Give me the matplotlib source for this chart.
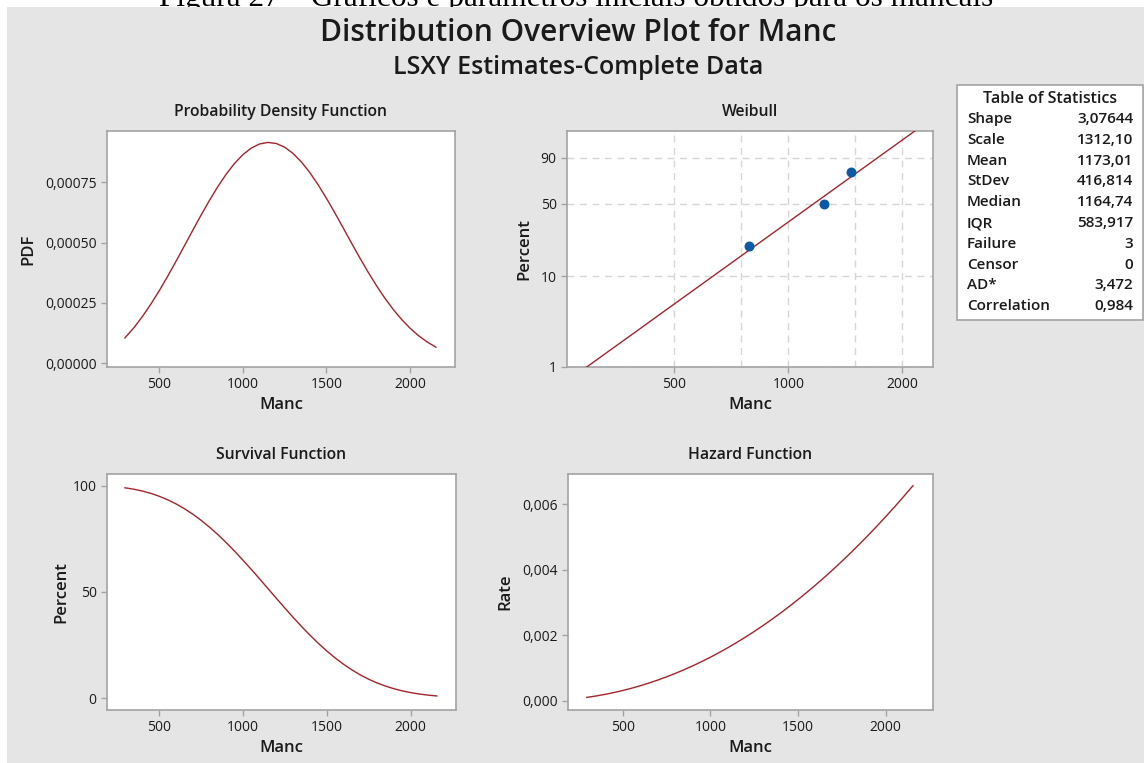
import numpy as np
import matplotlib.pyplot as plt
from matplotlib.patches import Rectangle
from matplotlib.ticker import FixedLocator, FuncFormatter, NullFormatter

# Weibull fit for Manc (shape 3,07644, scale 1312,10), evaluated from the 1st to the 99th percentile
manc = [294.2, 350, 400, 450, 500, 550, 600, 650, 700, 750, 800, 850, 900, 950,
        1000, 1050, 1100, 1150, 1200, 1250, 1300, 1350, 1400, 1450, 1500, 1550,
        1600, 1650, 1700, 1750, 1800, 1850, 1900, 1950, 2000, 2050, 2100, 2155.6]
pdf = [0.00010405, 0.00014823, 0.00019391, 0.00024485, 0.00030042, 0.00035982,
       0.00042204, 0.00048597, 0.00055034, 0.00061375, 0.00067471, 0.00073174,
       0.00078333, 0.00082805, 0.00086462, 0.00089192, 0.00090910, 0.00091558,
       0.00091114, 0.00089587, 0.00087023, 0.00083503, 0.00079137, 0.00074060,
       0.00068428, 0.00062405, 0.00056163, 0.00049867, 0.00043671, 0.00037711,
       0.00032101, 0.00026928, 0.00022253, 0.00018112, 0.00014514, 0.00011447,
       0.00008882, 0.00006570]
survival = [99.00, 98.30, 97.45, 96.35, 94.99, 93.34, 91.39, 89.12, 86.53, 83.62,
            80.39, 76.87, 73.08, 69.05, 64.82, 60.42, 55.92, 51.35, 46.78, 42.26,
            37.84, 33.57, 29.50, 25.67, 22.10, 18.83, 15.87, 13.22, 10.88, 8.84,
            7.10, 5.63, 4.40, 3.39, 2.58, 1.93, 1.43, 1.00]
hazard = [0.00010510, 0.00015080, 0.00019899, 0.00025412, 0.00031627, 0.00038549,
          0.00046182, 0.00054532, 0.00063604, 0.00073401, 0.00083927, 0.00095186,
          0.00107181, 0.00119915, 0.00133392, 0.00147614, 0.00162584, 0.00178305,
          0.00194780, 0.00212011, 0.00230000, 0.00248748, 0.00268260, 0.00288535,
          0.00309579, 0.00331390, 0.00353975, 0.00377331, 0.00401461, 0.00426366,
          0.00452051, 0.00478515, 0.00505760, 0.00533788, 0.00562600, 0.00592199,
          0.00622584, 0.00657243]

# observed failures with median ranks
obs_manc = [790, 1243, 1462]
obs_pct = [20.59, 50.00, 79.41]

stat_names = ["Shape", "Scale", "Mean", "StDev", "Median", "IQR",
              "Failure", "Censor", "AD*", "Correlation"]
stat_values = ["3,07644", "1312,10", "1173,01", "416,814", "1164,74", "583,917",
               "3", "0", "3,472", "0,984"]

W, H = 1144, 763
BG = "#e5e5e5"
RED = "#a4242c"
SPINE = "#a3a3a3"
TXT = "#1a1a1a"

plt.rcParams['font.family'] = ['Open Sans', 'DejaVu Sans']
plt.rcParams['text.color'] = TXT
plt.rcParams['axes.labelcolor'] = TXT
plt.rcParams['xtick.color'] = SPINE
plt.rcParams['ytick.color'] = SPINE
plt.rcParams['xtick.labelcolor'] = TXT
plt.rcParams['ytick.labelcolor'] = TXT
plt.rcParams['xtick.labelsize'] = 10
plt.rcParams['ytick.labelsize'] = 10

fig = plt.figure(figsize=(W / 100, H / 100), dpi=100, facecolor="white")

# caption of the report page, mostly hidden behind the graph window
fig.text(576 / W, 1 - 6 / H,
         "Figura 27 – Gráficos e parâmetros iniciais obtidos para os mancais",
         family="Liberation Serif", fontsize=22.5, ha="center", va="baseline",
         color="black", zorder=0)
fig.add_artist(Rectangle((7 / W, 0), 1 - 7 / W, 1 - 7 / H, transform=fig.transFigure,
                         facecolor=BG, edgecolor="none", zorder=1))

fig.text(578 / W, 1 - 33 / H, "Distribution Overview Plot for Manc",
         fontsize=21.5, fontweight="semibold", ha="center", va="center", zorder=2)
fig.text(578 / W, 1 - 67 / H, "LSXY Estimates-Complete Data",
         fontsize=18, fontweight="semibold", ha="center", va="center", zorder=2)


def rect(left, top, right, bottom):
    return [left / W, 1 - bottom / H, (right - left) / W, (bottom - top) / H]


def comma(fmt):
    return FuncFormatter(lambda v, pos: format(v, fmt).replace(".", ","))


def style(ax, title):
    ax.set_facecolor("white")
    for s in ax.spines.values():
        s.set_color(SPINE)
        s.set_linewidth(1.2)
    ax.tick_params(length=4, width=1)
    ax.set_title(title, fontsize=11.3, fontweight="semibold", pad=11)
    ax.set_xlabel("Manc", fontsize=12, fontweight="semibold", labelpad=3)


xlims = (187, 2270)
xticks = [500, 1000, 1500, 2000]

# probability density
ax1 = fig.add_axes(rect(107, 131, 455, 367), zorder=3)
style(ax1, "Probability Density Function")
ax1.plot(manc, pdf, color=RED, lw=1)
ax1.set_xlim(xlims)
ax1.set_xticks(xticks)
ax1.set_ylim(-0.0000166, 0.000963)
ax1.set_yticks([0, 0.00025, 0.0005, 0.00075])
ax1.yaxis.set_major_formatter(comma(".5f"))
ax1.set_ylabel("PDF", fontsize=12, fontweight="semibold", labelpad=6)


# Weibull probability plot
def weib_fwd(p):
    p = np.clip(np.asarray(p, dtype=float), 1e-6, 100 - 1e-6)
    return np.log(-np.log(1 - p / 100))


def weib_inv(t):
    return 100 * (1 - np.exp(-np.exp(t)))


ax2 = fig.add_axes(rect(567, 131, 933, 367), zorder=3)
style(ax2, "Weibull")
ax2.set_xscale("log")
ax2.set_yscale("function", functions=(weib_fwd, weib_inv))
ax2.plot(manc, [100 - s for s in survival], color=RED, lw=1, zorder=3)
ax2.scatter(obs_manc, obs_pct, s=38, color="#0b5aa8", zorder=4, clip_on=False)
ax2.set_xlim(261, 2407)
ax2.set_ylim(1, 99)
ax2.xaxis.set_major_locator(FixedLocator([500, 1000, 2000]))
ax2.xaxis.set_major_formatter(FuncFormatter(lambda v, pos: f"{v:.0f}"))
ax2.xaxis.set_minor_locator(FixedLocator([750, 1500]))
ax2.xaxis.set_minor_formatter(NullFormatter())
ax2.yaxis.set_major_locator(FixedLocator([1, 10, 50, 90]))
ax2.yaxis.set_major_formatter(FuncFormatter(lambda v, pos: f"{v:.0f}"))
ax2.yaxis.set_minor_locator(FixedLocator([]))
ax2.tick_params(which="minor", length=0)
ax2.grid(which="both", color="#d6d6d6", lw=1, ls=(0, (5, 4)))
ax2.set_axisbelow(True)
ax2.set_ylabel("Percent", fontsize=12, fontweight="semibold", labelpad=6)

# survival
ax3 = fig.add_axes(rect(107, 474, 456, 710), zorder=3)
style(ax3, "Survival Function")
ax3.plot(manc, survival, color=RED, lw=1)
ax3.set_xlim(xlims)
ax3.set_xticks(xticks)
ax3.set_ylim(-5.6, 105.5)
ax3.set_yticks([0, 50, 100])
ax3.set_ylabel("Percent", fontsize=12, fontweight="semibold", labelpad=2)

# hazard
ax4 = fig.add_axes(rect(568, 474, 933, 710), zorder=3)
style(ax4, "Hazard Function")
ax4.plot(manc, hazard, color=RED, lw=1)
ax4.set_xlim(xlims)
ax4.set_xticks(xticks)
ax4.set_ylim(-0.00028, 0.00693)
ax4.set_yticks([0, 0.002, 0.004, 0.006])
ax4.yaxis.set_major_formatter(comma(".3f"))
ax4.set_ylabel("Rate", fontsize=12, fontweight="semibold", labelpad=6)

# table of statistics
fig.add_artist(Rectangle((957 / W, 1 - 320 / H), (1143 - 957) / W, (320 - 85) / H,
                         transform=fig.transFigure, facecolor="white",
                         edgecolor=SPINE, lw=1.2, zorder=2))
fig.text(1050 / W, 1 - 99 / H, "Table of Statistics", fontsize=11.5,
         fontweight="semibold", ha="center", va="center", zorder=3)
for i, (name, val) in enumerate(zip(stat_names, stat_values)):
    y = 1 - (119 + i * 20.8) / H
    fig.text(967 / W, y, name, fontsize=11, fontweight="semibold",
             ha="left", va="center", zorder=3)
    fig.text(1133 / W, y, val, fontsize=11, fontweight="semibold",
             ha="right", va="center", zorder=3)

fig.savefig("out.png", dpi=100, facecolor=fig.get_facecolor())
